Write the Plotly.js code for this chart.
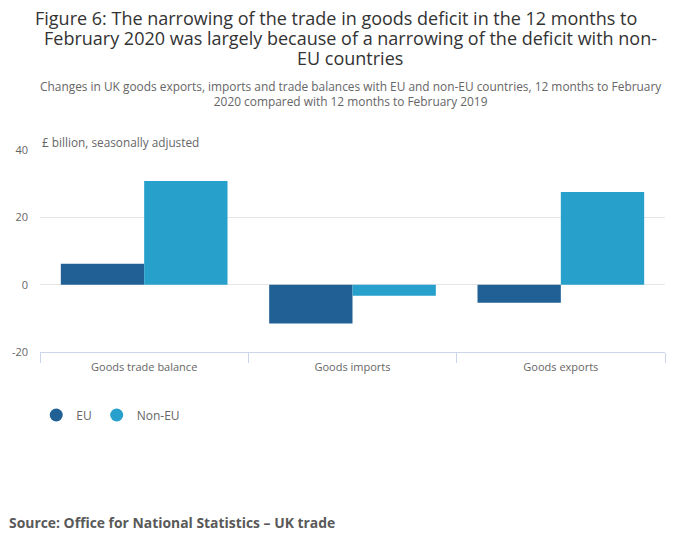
<!DOCTYPE html>
<html>
<head>
<meta charset="utf-8">
<script src="https://cdn.plot.ly/plotly-3.0.1.min.js"></script>
<style>
  html, body { margin: 0; padding: 0; background: #fff; }
  #chart { width: 700px; height: 549px; }
</style>
</head>
<body>
<div id="chart"></div>
<script>
const categories = ["Goods trade balance", "Goods imports", "Goods exports"];
const euValues = [6.2, -11.5, -5.4];
const nonEuValues = [30.8, -3.3, 27.5];
const seriesNames = ["EU", "Non-EU"];
const yTicks = [-20, 0, 20, 40];
const yTickText = ["-20", "0", "20", "40"];
const titleLines = [
  "Figure 6: The narrowing of the trade in goods deficit in the 12 months to",
  "February 2020 was largely because of a narrowing of the deficit with non-",
  "EU countries",
];

const COLORS = ["#206095", "#27a0cc"];
const FONT = "'Open Sans', sans-serif";

// plot area: 625 x 202 px, left edge at 40px, bottom edge at 352px
const px = (x) => (x - 40) / 625;
const py = (y) => (352 - y) / 202;

const bars = [euValues, nonEuValues].map((values, i) => ({
  type: "bar",
  name: seriesNames[i],
  x: categories,
  y: values,
  marker: { color: COLORS[i] },
  showlegend: false,
  hoverinfo: "x+y+name",
}));

// round legend markers, like the original
const legendKeys = seriesNames.map((name, i) => ({
  type: "scatter",
  mode: "markers",
  name,
  x: [null],
  y: [null],
  marker: { color: COLORS[i], size: 13, symbol: "circle" },
}));

// first line sits a bit left in the original (trailing space)
const titleCentres = [336, 350, 350];
const titleNotes = titleLines.map((text, i) => ({
  text,
  xref: "paper", yref: "paper",
  x: px(titleCentres[i]), y: py(18 + i * 20),
  xanchor: "center", yanchor: "middle",
  showarrow: false,
  font: { family: FONT, size: 18, color: "#333" },
}));

Plotly.newPlot(
  "chart",
  [...bars, ...legendKeys],
  {
    width: 700,
    height: 549,
    paper_bgcolor: "#fff",
    plot_bgcolor: "#fff",
    font: { family: FONT, color: "#666", size: 11 },
    margin: { l: 40, r: 35, t: 150, b: 197, pad: 0 },
    barmode: "group",
    bargap: 0.2,
    bargroupgap: 0,
    xaxis: {
      type: "category",
      showline: true,
      linecolor: "#ccd6eb",
      linewidth: 1,
      ticks: "outside",
      tickson: "boundaries",
      ticklen: 10,
      tickcolor: "#ccd6eb",
      showgrid: false,
      tickfont: { family: FONT, size: 11, color: "#666" },
      ticklabelstandoff: 5,
      fixedrange: true,
    },
    yaxis: {
      range: [-20, 40],
      tickvals: yTicks,
      ticktext: yTickText,
      gridcolor: "#e6e6e6",
      zeroline: false,
      tickfont: { family: FONT, size: 11, color: "#666" },
      ticklabelstandoff: 11,
      fixedrange: true,
    },
    legend: {
      orientation: "h",
      x: -0.006,
      xanchor: "left",
      y: -0.24,
      yanchor: "top",
      font: { family: FONT, size: 12, color: "#666" },
      itemwidth: 30,
      tracegroupgap: 0,
    },
    annotations: [
      ...titleNotes,
      {
        text: "Changes in UK goods exports, imports and trade balances with EU and non-EU countries, 12 months to February<br>2020 compared with 12 months to February 2019",
        xref: "paper", yref: "paper",
        x: px(350.5), y: py(93.5),
        xanchor: "center", yanchor: "middle",
        showarrow: false,
        font: { family: FONT, size: 11.9, color: "#666" },
      },
      {
        text: "£ billion, seasonally adjusted",
        xref: "paper", yref: "paper",
        x: 0, y: py(142),
        xanchor: "left", yanchor: "middle",
        showarrow: false,
        font: { family: FONT, size: 11.8, color: "#666" },
      },
      {
        text: "<b>Source: Office for National Statistics – UK trade</b>",
        xref: "paper", yref: "paper",
        x: px(7), y: py(522),
        xanchor: "left", yanchor: "middle",
        showarrow: false,
        font: { family: FONT, size: 13.9, color: "#595959" },
      },
    ],
  },
  { displayModeBar: false }
);
</script>
</body>
</html>
